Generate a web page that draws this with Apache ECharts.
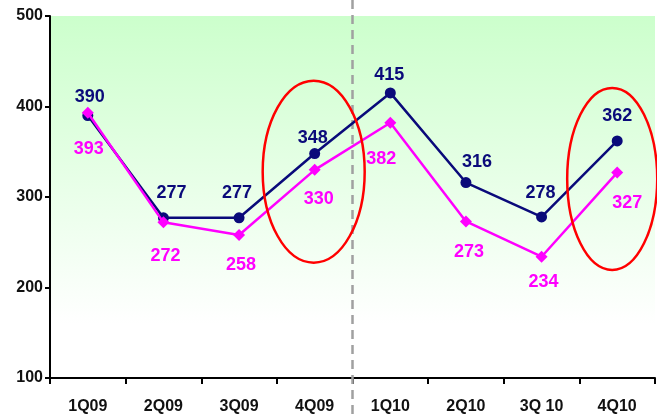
<!DOCTYPE html>
<html>
<head>
<meta charset="utf-8">
<script src="https://cdn.jsdelivr.net/npm/echarts@6/dist/echarts.min.js"></script>
<style>
  html, body { margin: 0; padding: 0; background: #ffffff; }
  #chart { width: 657px; height: 417px; }
</style>
</head>
<body>
<div id="chart"></div>
<script>
// Quarterly figures, 2009-2010
const quarters = ['1Q09', '2Q09', '3Q09', '4Q09', '1Q10', '2Q10', '3Q 10', '4Q10'];
const seriesA = [390, 277, 277, 348, 415, 316, 278, 362];
const seriesB = [393, 272, 258, 330, 382, 273, 234, 327];
const yTicks = [100, 200, 300, 400, 500];

// label placement relative to each point (pixels)
const offsetsA = [[2, -19], [8, -25], [-2, -25], [-2, -16], [-1, -18], [11, -20], [-1, -24], [0, -25]];
const offsetsB = [[1, 36], [2, 34], [2, 30], [4, 29], [-9, 36], [3, 31], [2, 25], [10, 30]];

const FONT = 'Liberation Sans, Arial, sans-serif';
const NAVY = '#0a0a7a';
const MAGENTA = '#ff00ff';

const chart = echarts.init(document.getElementById('chart'), null, { renderer: 'canvas' });

function labelled(values, offsets) {
  return values.map((v, i) => ({
    value: v,
    label: { offset: offsets[i] }
  }));
}

chart.setOption({
  animation: false,
  grid: {
    left: 50, right: 2, top: 16, bottom: 39,
    show: true,
    borderWidth: 0,
    backgroundColor: new echarts.graphic.LinearGradient(0, 0, 0, 1, [
      { offset: 0, color: '#ccffcc' },
      { offset: 0.85, color: '#ffffff' },
      { offset: 1, color: '#ffffff' }
    ])
  },
  xAxis: {
    type: 'category',
    data: quarters,
    boundaryGap: true,
    axisLine: { lineStyle: { color: '#000', width: 2 } },
    axisTick: { show: true, length: 6, lineStyle: { color: '#000', width: 2 } },
    axisLabel: { color: '#111', fontFamily: FONT, fontWeight: 'bold', fontSize: 16, margin: 21 },
    splitLine: { show: false }
  },
  yAxis: {
    type: 'value',
    min: yTicks[0],
    max: yTicks[yTicks.length - 1],
    interval: 100,
    axisLine: { show: true, lineStyle: { color: '#000', width: 2 } },
    axisTick: { show: true, length: 5, lineStyle: { color: '#000', width: 2 } },
    axisLabel: { color: '#111', fontFamily: FONT, fontWeight: 'bold', fontSize: 16, margin: 7 },
    splitLine: { show: false }
  },
  series: [
    {
      name: 'A',
      type: 'line',
      data: labelled(seriesA, offsetsA),
      symbol: 'circle',
      symbolSize: 11,
      z: 3,
      lineStyle: { color: NAVY, width: 2.5 },
      itemStyle: { color: NAVY },
      label: {
        show: true, position: 'inside', color: NAVY,
        fontFamily: FONT, fontWeight: 'bold', fontSize: 18
      }
    },
    {
      name: 'B',
      type: 'line',
      data: labelled(seriesB, offsetsB),
      symbol: 'diamond',
      symbolSize: 12,
      z: 4,
      lineStyle: { color: MAGENTA, width: 2.5 },
      itemStyle: { color: MAGENTA },
      label: {
        show: true, position: 'inside', color: MAGENTA,
        fontFamily: FONT, fontWeight: 'bold', fontSize: 18
      }
    }
  ]
});

// Year divider and highlight rings, placed from the axes
function drawOverlays() {
  const px = (i, v) => chart.convertToPixel({ seriesIndex: 0 }, [i, v]);
  const x4Q09 = px(3, 300)[0];
  const x1Q10 = px(4, 300)[0];
  const dividerX = (x4Q09 + x1Q10) / 2;
  const c1 = px(3, 328);
  const c2 = px(7, 320);
  chart.setOption({
    graphic: [
      {
        type: 'line', z: 1,
        shape: { x1: dividerX, y1: 0, x2: dividerX, y2: 417 },
        style: { stroke: '#a0a0a0', lineWidth: 2.5, lineDash: [9, 6] }
      },
      {
        type: 'ellipse', z: 10,
        shape: { cx: c1[0] - 1, cy: c1[1], rx: 51, ry: 91 },
        style: { fill: null, stroke: '#ff0000', lineWidth: 2.5 }
      },
      {
        type: 'ellipse', z: 10,
        shape: { cx: c2[0] - 5, cy: c2[1], rx: 45, ry: 91 },
        style: { fill: null, stroke: '#ff0000', lineWidth: 2.5 }
      }
    ]
  });
}
drawOverlays();
</script>
</body>
</html>
